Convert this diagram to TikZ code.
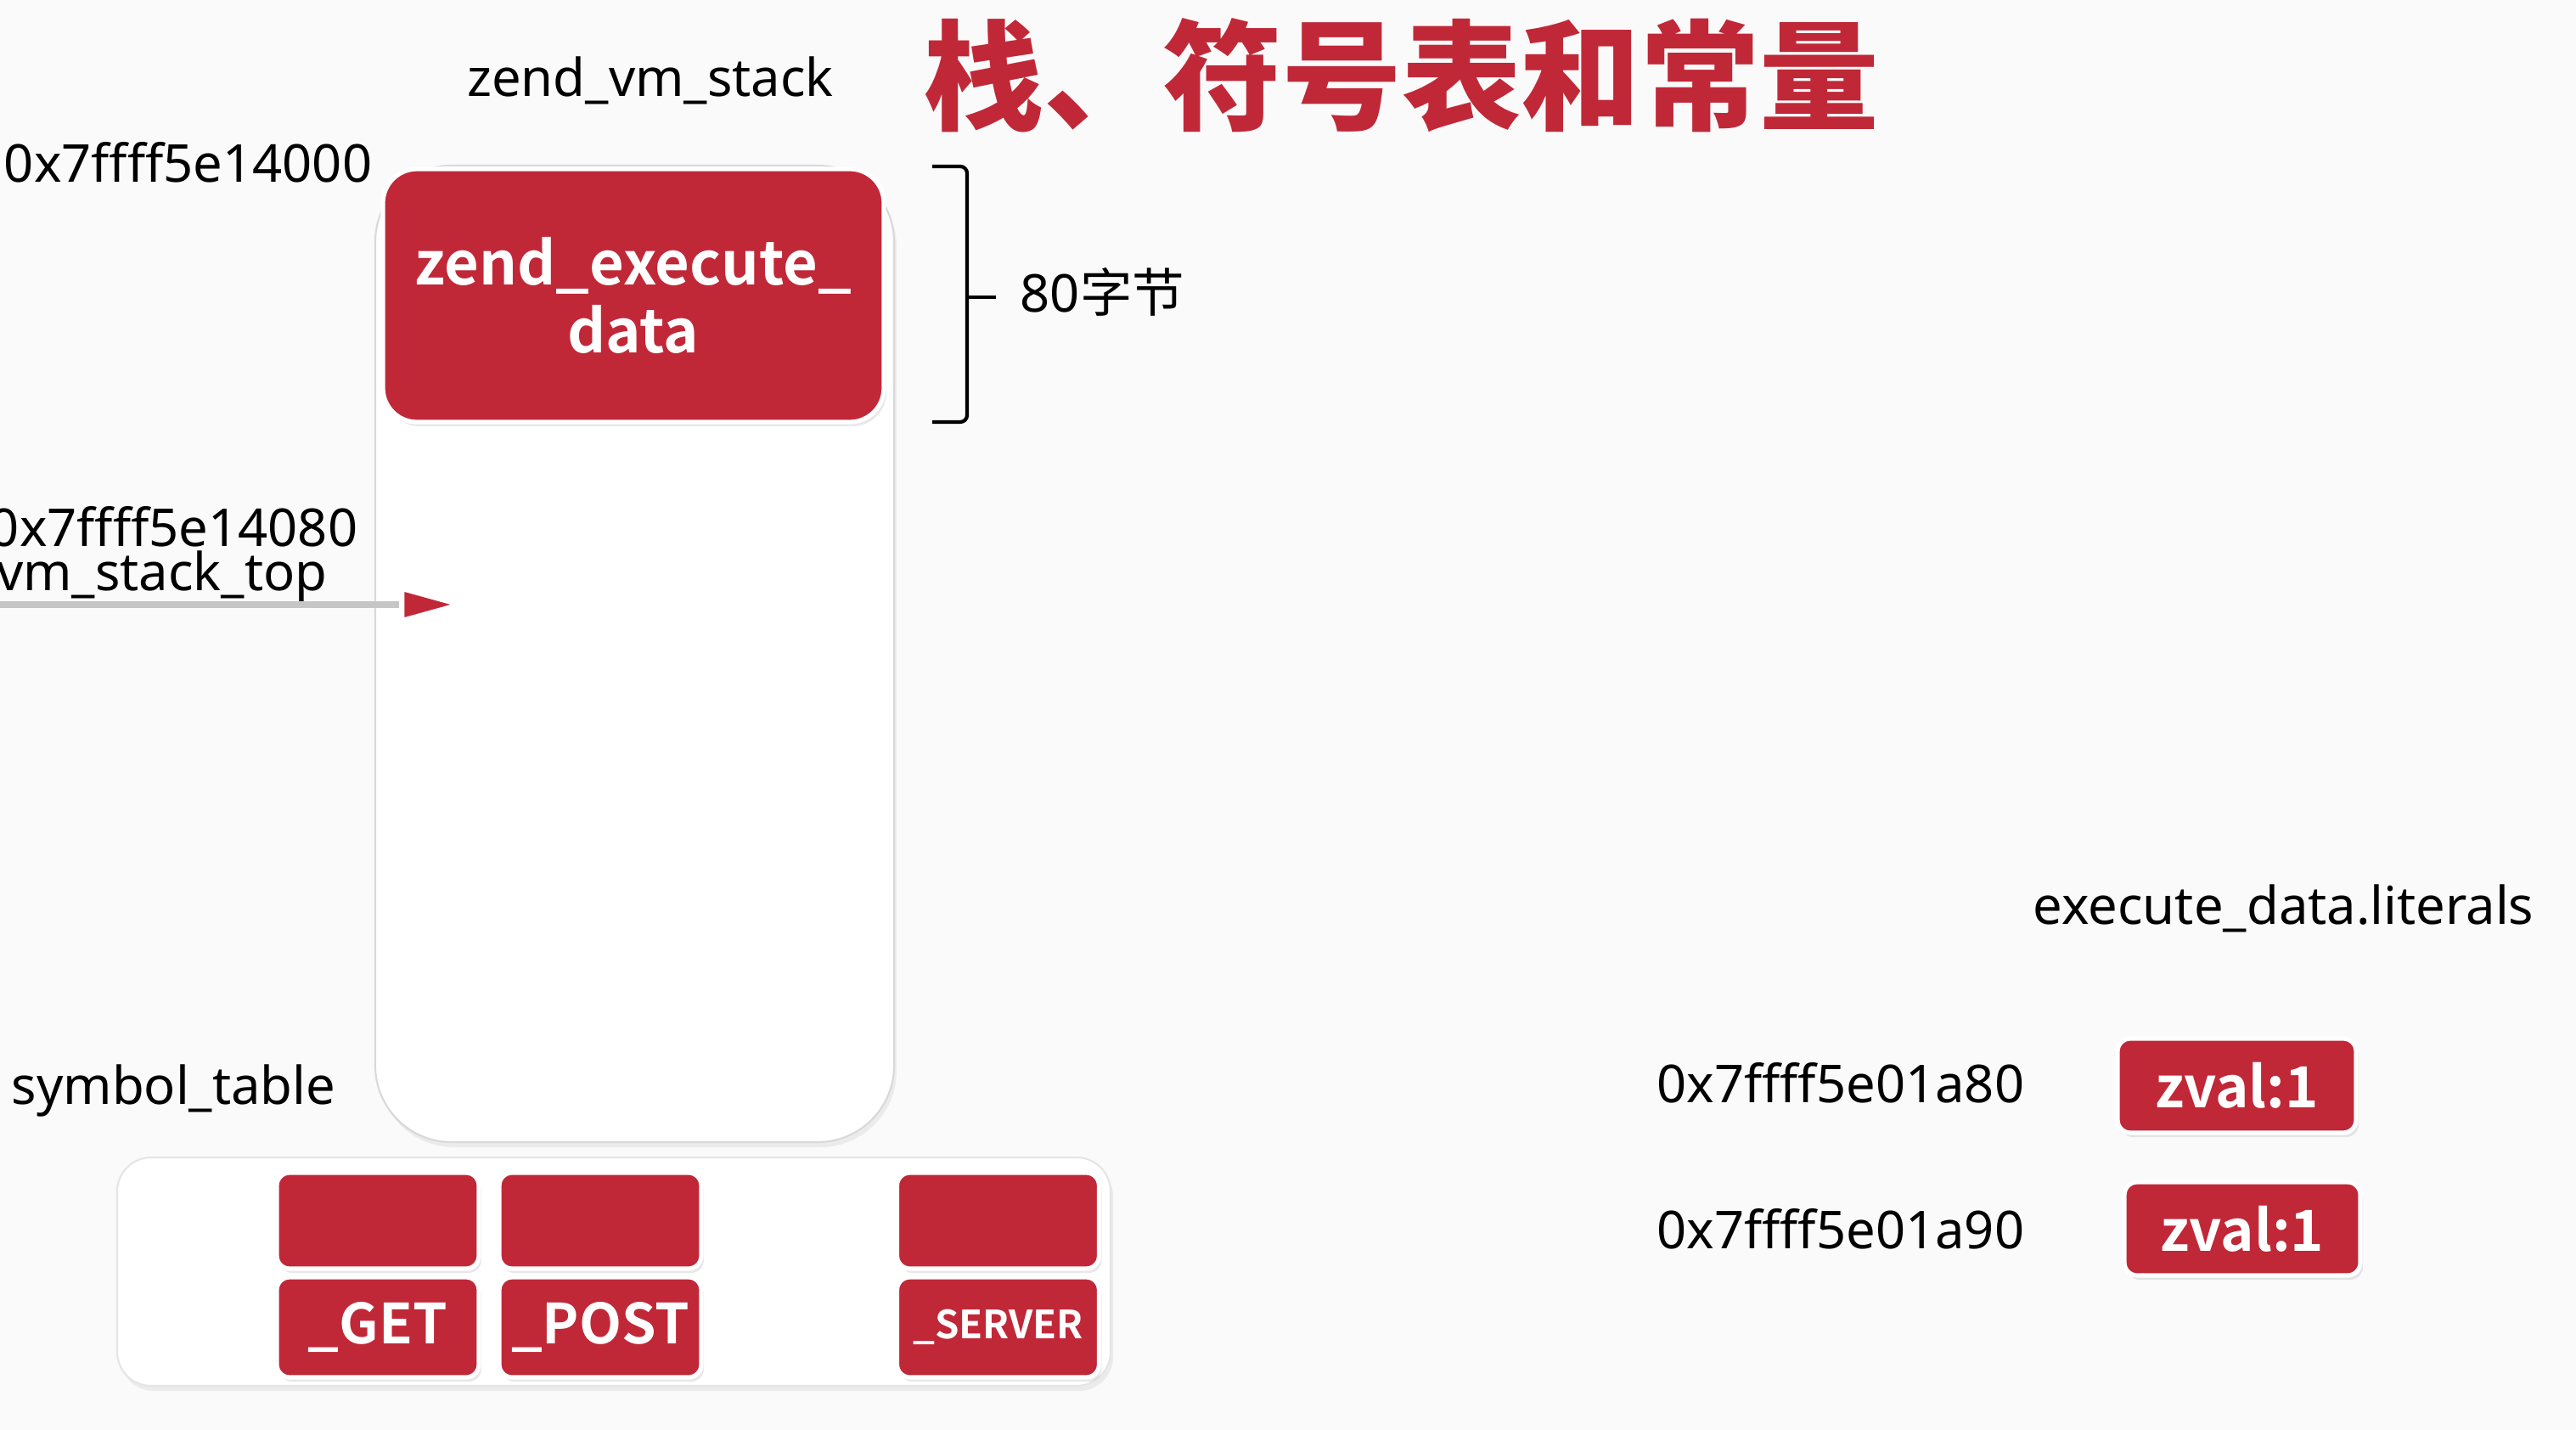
\documentclass[tikz,border=0pt]{standalone}
\usepackage{fontspec}
\setmainfont{Noto Sans}
\newfontfamily\cjk{Noto Sans CJK SC}
\newfontfamily\cjkbold{Noto Sans CJK SC Bold}
\newfontfamily\cjkheavy{Noto Sans CJK SC Black}
\usetikzlibrary{arrows.meta}
\usetikzlibrary{shadows}
\definecolor{zred}{RGB}{192,40,56}
\definecolor{paper}{RGB}{249,250,249}

\begin{document}
\begin{tikzpicture}[
        lbl/.style={inner sep=0pt, font=\fontsize{17.5}{21}\selectfont},
        redbox/.style={rectangle, rounded corners=0.15cm, fill=zred, draw=white, line width=1.5pt,
            text=white, font=\cjkbold\fontsize{19}{23}\selectfont,
            drop shadow={opacity=0.18, shadow xshift=0.03cm, shadow yshift=-0.05cm}},
        panel/.style={rectangle, fill=white, draw=gray!30, line width=0.6pt,
            drop shadow={opacity=0.12, shadow xshift=0.03cm, shadow yshift=-0.06cm}}
    ]
            \fill[paper] (0,0) rectangle (30.34,-16.84);
            \useasboundingbox (0,0) rectangle (30.34,-16.84);

            % title
            \node[anchor=west, inner sep=0pt, text=zred, font=\cjkheavy\fontsize{40}{44}\selectfont] (title) at (10.88,-0.89) {栈、符号表和常量};

            % the stack
            \node[lbl, anchor=base] (vmstack) at (7.66,-1.14) {zend\_vm\_stack};
            \node[panel, rounded corners=0.9cm, minimum width=6.11cm, minimum height=11.5cm] (stack) at (7.475,-7.7) {};
            \node[redbox, rounded corners=0.4cm, minimum width=5.9cm, minimum height=2.98cm, align=center,
                font=\cjkbold\fontsize{20}{23}\selectfont] (execdata) at (7.46,-3.48) {zend\_execute\_\\data};

            \node[lbl, anchor=base east] (addrlow) at (4.39,-2.15) {0x7ffff5e14000};
            \node[lbl, anchor=base east] (addrtop) at (4.22,-6.44) {0x7ffff5e14080};
            \node[lbl, anchor=base east] (stacktop) at (3.86,-6.96) {vm\_stack\_top};

            \draw[line width=1.2pt, rounded corners=0.08cm] (10.98,-1.96) -- (11.39,-1.96) -- (11.39,-4.97) -- (10.98,-4.97);
            \draw[line width=1.2pt] (11.39,-3.50) -- (11.73,-3.50);
            \node[lbl, anchor=base west] (bytes) at (12.01,-3.68) {80{\cjk 字节}};

            \coordinate (topsrc) at (0,-7.12);
            \coordinate (toptip) at (5.55,-7.12);
            \draw[gray!45, line width=2.2pt, -{Triangle[length=0.85cm, width=0.45cm, fill=zred, color=white, line width=1.8pt]}] (topsrc) -- (toptip);

            % symbol table
            \node[lbl, anchor=base west] (symlbl) at (0.13,-13.0) {symbol\_table};
            \node[panel, rounded corners=0.4cm, draw=gray!20, minimum width=11.7cm, minimum height=2.69cm] (symtab) at (7.23,-14.975) {};
            \foreach \x/\name/\txt in {4.45/get/\_GET, 7.07/post/\_POST, 11.755/server/{\fontsize{13}{15}\selectfont\_SERVER}} {
                \node[redbox, minimum width=2.38cm, minimum height=1.13cm] (\name-val) at (\x,-14.375) {};
                \node[redbox, minimum width=2.38cm, minimum height=1.18cm, font=\cjkbold\fontsize{18.5}{22}\selectfont] (\name-key) at (\x,-15.63) {\txt};
            }

            % literals
            \node[lbl, anchor=base east] (litlbl) at (29.85,-10.88) {execute\_data.literals};
            \node[lbl, anchor=base west] (lit1addr) at (19.51,-12.98) {0x7ffff5e01a80};
            \node[lbl, anchor=base west] (lit2addr) at (19.51,-14.70) {0x7ffff5e01a90};
            \node[redbox, minimum width=2.81cm, minimum height=1.11cm] (lit1) at (26.345,-12.785) {zval:1};
            \node[redbox, minimum width=2.78cm, minimum height=1.10cm] (lit2) at (26.41,-14.47) {zval:1};
        \end{tikzpicture}
\end{document}
